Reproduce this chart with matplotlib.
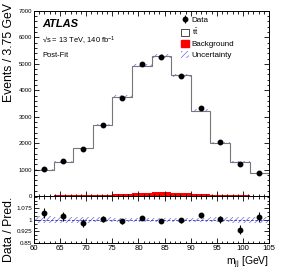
import numpy as np
import matplotlib
matplotlib.use("Agg")
import matplotlib.pyplot as plt
from matplotlib.patches import Patch
from matplotlib.ticker import MultipleLocator, FixedLocator

plt.rcParams['font.family'] = ['Liberation Sans', 'DejaVu Sans']
plt.rcParams['mathtext.fontset'] = 'custom'
plt.rcParams['mathtext.rm'] = 'Liberation Sans'
plt.rcParams['mathtext.it'] = 'Liberation Sans:italic'
plt.rcParams['mathtext.bf'] = 'Liberation Sans:bold'
plt.rcParams['hatch.linewidth'] = 0.5

# Data
bin_edges = [60, 63.75, 67.5, 71.25, 75, 78.75, 82.5, 86.25, 90, 93.75, 97.5, 101.25, 105]
ttbar = [970, 1280, 1775, 2640, 3680, 4810, 5140, 4455, 3155, 1970, 1275, 855]
background = [15, 20, 25, 50, 80, 125, 140, 105, 75, 50, 25, 15]
data = [1028, 1331, 1764, 2698, 3722, 4989, 5248, 4542, 3324, 2030, 1216, 886]
ratio_err = [0.032, 0.028, 0.024, 0.019, 0.016, 0.014, 0.014, 0.015, 0.017, 0.022, 0.029, 0.034]
rel_unc = [0.022, 0.020, 0.018, 0.016, 0.015, 0.014, 0.014, 0.014, 0.015, 0.016, 0.018, 0.020]

edges = np.array(bin_edges)
centers = 0.5 * (edges[:-1] + edges[1:])
tt = np.array(ttbar, float)
bkg = np.array(background, float)
dat = np.array(data, float)
tot = tt + bkg
ratio = dat / tot
rerr = np.array(ratio_err)
unc = np.array(rel_unc)

fig = plt.figure(figsize=(2.83, 2.73), dpi=100)
ax = fig.add_axes([0.120, 0.282, 0.831, 0.678])
rax = fig.add_axes([0.120, 0.110, 0.831, 0.172])

hatch_col = '#6a6ae6'
line_col = '#777777'

ax.stairs(bkg, edges, fill=True, color='red', linewidth=0)
ax.stairs(tot, edges, baseline=bkg, fill=True, facecolor='white', linewidth=0)
ax.stairs(tot * (1 + unc), edges, baseline=tot * (1 - unc), fill=True,
          facecolor='none', edgecolor=hatch_col, hatch='//////', linewidth=0)
ax.stairs(tot, edges, color=line_col, linewidth=0.8)
eb = ax.errorbar(centers, dat, yerr=np.sqrt(dat), fmt='o', color='black', markersize=3.2,
                 elinewidth=0.8, capsize=0)

ax.set_xlim(60, 105)
ax.set_ylim(0, 7000)
ax.yaxis.set_major_locator(MultipleLocator(1000))
ax.yaxis.set_minor_locator(MultipleLocator(200))
for a in (ax, rax):
    a.xaxis.set_major_locator(MultipleLocator(5))
    a.xaxis.set_minor_locator(MultipleLocator(1))
    a.tick_params(which='both', direction='in', top=True, right=True, width=0.6)
    a.tick_params(which='major', length=3.5)
    a.tick_params(which='minor', length=1.8)
    for s in a.spines.values():
        s.set_linewidth(0.7)
ax.tick_params(axis='x', labelbottom=False)
ax.tick_params(axis='y', labelsize=4.3, pad=1.5)
ax.set_ylabel('Events / 3.75 GeV', fontsize=8.8, ha='right')
ax.yaxis.set_label_coords(-0.08, 1.04)

ax.text(0.035, 0.93, 'ATLAS', transform=ax.transAxes, fontsize=8, fontweight='bold',
        fontstyle='italic', va='center')
ax.text(0.035, 0.84, '\u221as = 13 TeV, 140 fb$^{-1}$', transform=ax.transAxes,
        fontsize=5.4, va='center')
ax.text(0.035, 0.76, 'Post-Fit', transform=ax.transAxes, fontsize=5.4, va='center')

handles = [
    eb,
    Patch(facecolor='white', edgecolor='black', linewidth=0.5),
    Patch(facecolor='red', edgecolor='red'),
    Patch(facecolor='none', edgecolor=hatch_col, hatch='//////', linewidth=0),
]
labels = ['Data', r'$\mathrm{t\bar{t}}$', 'Background', 'Uncertainty']
ax.legend(handles, labels, loc='upper left', bbox_to_anchor=(0.625, 0.975), frameon=False,
          fontsize=5.8, handlelength=1.05, handleheight=1.05, handletextpad=0.3,
          labelspacing=0.32, borderaxespad=0, borderpad=0)

rax.stairs(1 + unc, edges, baseline=1 - unc, fill=True, facecolor='none',
           edgecolor=hatch_col, hatch='//////', linewidth=0)
rax.axhline(1, color='#3030b0', linewidth=0.6, linestyle=(0, (3, 2)))
rax.errorbar(centers, ratio, yerr=rerr, fmt='o', color='black', markersize=3.2,
             elinewidth=0.8, capsize=0)
rax.set_xlim(60, 105)
rax.set_ylim(0.85, 1.155)
rax.yaxis.set_major_locator(FixedLocator([0.85, 0.925, 1.0, 1.075]))
rax.yaxis.set_minor_locator(MultipleLocator(0.025))
rax.set_yticklabels(['0.85', '0.925', '1', '1.075'])
rax.tick_params(axis='y', labelsize=4.5, pad=1.5)
rax.tick_params(axis='x', labelsize=5.6, pad=1.5)
rax.set_ylabel('Data / Pred.', fontsize=8.8)
rax.yaxis.set_label_coords(-0.08, 0.3)
rax.set_xlabel(r'm$_{\mathrm{jj}}$ [GeV]', fontsize=7.5, loc='right', labelpad=2)

fig.savefig('out.png', dpi=100)
